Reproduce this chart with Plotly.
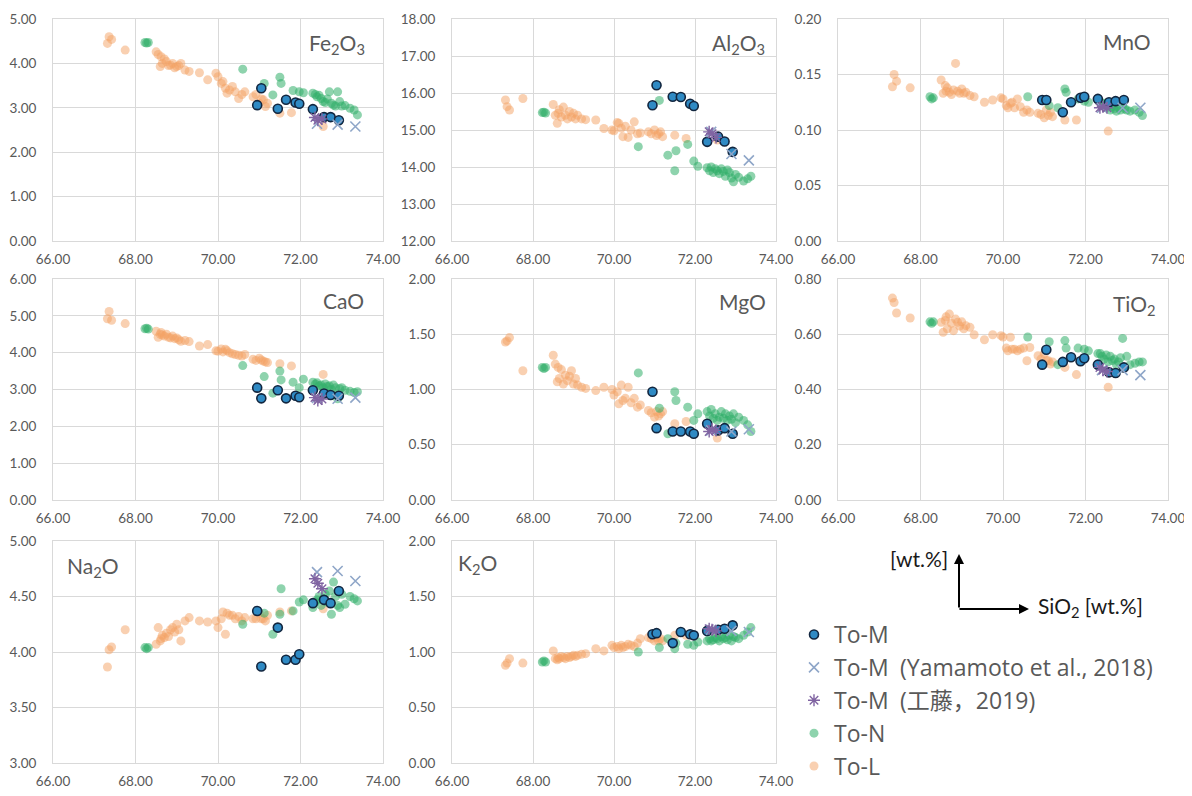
import plotly.graph_objects as go

# ---------------- data ----------------
# To-M (this study)
tom_sio2 = [70.95, 71.05, 71.45, 71.65, 71.88, 71.97, 72.30, 72.57, 72.73, 72.93]
tom_fe2o3 = [3.06, 3.44, 2.98, 3.18, 3.12, 3.09, 2.97, 2.79, 2.79, 2.72]
tom_al2o3 = [15.67, 16.21, 15.90, 15.89, 15.71, 15.65, 14.68, 14.82, 14.69, 14.41]
tom_mno = [0.127, 0.127, 0.116, 0.125, 0.129, 0.130, 0.128, 0.125, 0.126, 0.127]
tom_cao = [3.05, 2.76, 2.98, 2.76, 2.83, 2.79, 2.98, 2.89, 2.85, 2.83]
tom_mgo = [0.98, 0.65, 0.62, 0.62, 0.62, 0.60, 0.69, 0.63, 0.65, 0.60]
tom_tio2 = [0.490, 0.544, 0.500, 0.517, 0.502, 0.513, 0.490, 0.462, 0.460, 0.480]
tom_na2o = [4.37, 3.87, 4.22, 3.93, 3.93, 3.98, 4.44, 4.47, 4.44, 4.55]
tom_k2o = [1.16, 1.17, 1.08, 1.18, 1.16, 1.15, 1.19, 1.20, 1.21, 1.24]

# To-M (Yamamoto et al., 2018)
yam_sio2 = [72.40, 72.90, 73.33]
yam_fe2o3 = [2.64, 2.62, 2.58]
yam_al2o3 = [14.95, 14.35, 14.18]
yam_mno = [0.120, 0.120, 0.120]
yam_cao = [2.77, 2.75, 2.78]
yam_mgo = [0.63, 0.62, 0.64]
yam_tio2 = [0.470, 0.470, 0.452]
yam_na2o = [4.72, 4.73, 4.64]
yam_k2o = [1.20, 1.19, 1.18]

# To-M (Kudo, 2019)
kudo_sio2 = [72.35, 72.42, 72.52]
kudo_fe2o3 = [2.78, 2.72, 2.75]
kudo_al2o3 = [14.95, 14.90, 14.80]
kudo_mno = [0.120, 0.121, 0.120]
kudo_cao = [2.78, 2.70, 2.74]
kudo_mgo = [0.62, 0.64, 0.63]
kudo_tio2 = [0.480, 0.470, 0.465]
kudo_na2o = [4.66, 4.62, 4.57]
kudo_k2o = [1.21, 1.20, 1.19]

# To-N
ton_sio2 = [68.23, 68.27, 68.31, 70.60, 71.12, 71.33, 71.50, 71.53, 71.82, 71.97,
            72.07, 72.30, 72.36, 72.40, 72.45, 72.50, 72.55, 72.60, 72.65, 72.70,
            72.75, 72.80, 72.85, 72.90, 72.95, 73.00, 73.08, 73.20, 73.30, 73.38]
ton_fe2o3 = [4.47, 4.46, 4.47, 3.87, 3.55, 3.29, 3.69, 3.55, 3.39, 3.36,
             3.34, 3.33, 3.30, 3.25, 3.28, 3.21, 3.14, 3.12, 3.20, 3.36,
             3.10, 3.06, 3.04, 3.36, 3.14, 3.04, 3.05, 2.99, 2.95, 2.84]
ton_al2o3 = [15.47, 15.48, 15.46, 14.55, 15.80, 14.32, 13.90, 14.44, 14.61, 14.16,
             14.02, 13.98, 13.90, 14.00, 13.85, 13.95, 13.90, 13.82, 13.95, 13.88,
             13.75, 13.92, 13.85, 13.70, 13.60, 13.80, 13.72, 13.62, 13.68, 13.75]
ton_mno = [0.130, 0.128, 0.129, 0.130, 0.122, 0.120, 0.137, 0.134, 0.128, 0.126,
           0.125, 0.127, 0.125, 0.122, 0.124, 0.120, 0.122, 0.118, 0.121, 0.119,
           0.117, 0.120, 0.118, 0.122, 0.119, 0.118, 0.117, 0.118, 0.116, 0.113]
ton_cao = [4.65, 4.66, 4.64, 3.65, 3.35, 2.90, 3.50, 3.26, 3.20, 3.05,
           3.28, 3.20, 3.15, 3.18, 3.10, 3.12, 3.05, 3.15, 3.08, 3.10,
           3.00, 3.12, 3.05, 2.75, 3.02, 3.05, 2.98, 2.95, 2.92, 2.94]
ton_mgo = [1.20, 1.19, 1.20, 1.15, 0.83, 0.60, 0.98, 0.90, 0.84, 0.72,
           0.78, 0.80, 0.76, 0.82, 0.74, 0.78, 0.72, 0.75, 0.80, 0.74,
           0.78, 0.72, 0.76, 0.73, 0.78, 0.70, 0.75, 0.72, 0.68, 0.62]
ton_tio2 = [0.645, 0.640, 0.645, 0.590, 0.573, 0.490, 0.577, 0.550, 0.550, 0.546,
            0.540, 0.530, 0.530, 0.520, 0.510, 0.525, 0.500, 0.520, 0.505, 0.510,
            0.490, 0.500, 0.515, 0.585, 0.480, 0.520, 0.490, 0.495, 0.500, 0.500]
ton_na2o = [4.04, 4.03, 4.04, 4.25, 4.35, 4.16, 4.34, 4.57, 4.37, 4.45,
            4.47, 4.40, 4.45, 4.47, 4.50, 4.42, 4.48, 4.52, 4.45, 4.55,
            4.34, 4.63, 4.50, 4.42, 4.40, 4.52, 4.43, 4.50, 4.48, 4.46]
ton_k2o = [0.91, 0.92, 0.91, 1.00, 1.04, 1.12, 1.03, 1.08, 1.07, 1.06,
           1.09, 1.10, 1.12, 1.10, 1.11, 1.13, 1.12, 1.10, 1.14, 1.12,
           1.13, 1.11, 1.15, 1.10, 1.14, 1.13, 1.12, 1.15, 1.18, 1.22]

# To-L
tol_sio2 = [67.32, 67.36, 67.42, 67.75,
            68.50, 68.55, 68.60, 68.62, 68.65, 68.70, 68.75, 68.80, 68.85, 68.90, 68.95, 69.00, 69.05, 69.10,
            69.20, 69.30, 69.55, 69.75, 69.95,
            70.00, 70.08, 70.12, 70.18, 70.22, 70.28, 70.35, 70.42, 70.50, 70.58, 70.65,
            70.85, 70.92, 71.00, 71.05, 71.10, 71.15, 71.20,
            71.50, 71.78, 72.55]
tol_fe2o3 = [4.45, 4.60, 4.54, 4.30,
             4.26, 4.20, 3.93, 4.15, 4.00, 4.10, 4.04, 3.95, 3.96, 4.00, 3.90, 3.93, 3.95, 4.00,
             3.85, 3.82, 3.79, 3.63, 3.78,
             3.70, 3.55, 3.59, 3.44, 3.33, 3.40, 3.48, 3.36, 3.21, 3.30, 3.36,
             3.25, 3.30, 3.10, 3.20, 3.18, 3.03, 3.10,
             2.88, 2.89, 2.58]
tol_al2o3 = [15.81, 15.63, 15.54, 15.85,
             15.69, 15.40, 15.18, 15.45, 15.55, 15.35, 15.62, 15.40, 15.30, 15.50, 15.35, 15.45, 15.30, 15.40,
             15.30, 15.28, 15.27, 15.04, 15.00,
             14.98, 15.20, 15.18, 15.05, 14.82, 15.10, 14.80, 15.00, 15.22, 14.90, 14.92,
             14.95, 14.90, 15.00, 14.85, 14.90, 14.95, 14.82,
             14.86, 14.77, 14.73]
tol_mno = [0.139, 0.150, 0.144, 0.138,
           0.145, 0.133, 0.140, 0.135, 0.138, 0.134, 0.132, 0.136, 0.160, 0.135, 0.133, 0.137, 0.133, 0.134,
           0.131, 0.130, 0.125, 0.127, 0.129,
           0.128, 0.122, 0.120, 0.124, 0.125, 0.120, 0.128, 0.121, 0.116, 0.118, 0.116,
           0.115, 0.114, 0.111, 0.118, 0.113, 0.116, 0.112,
           0.109, 0.109, 0.099]
tol_cao = [4.92, 5.12, 4.88, 4.79,
           4.58, 4.42, 4.50, 4.55, 4.48, 4.45, 4.50, 4.42, 4.40, 4.45, 4.38, 4.40, 4.35, 4.31,
           4.33, 4.30, 4.18, 4.22, 4.05,
           4.04, 4.10, 4.02, 4.09, 4.05, 4.00, 3.97, 3.95, 3.93, 3.91, 3.95,
           3.82, 3.79, 3.85, 3.80, 3.77, 3.75, 3.73,
           3.70, 3.64, 3.41]
tol_mgo = [1.43, 1.44, 1.47, 1.17,
           1.31, 1.23, 1.07, 1.20, 1.10, 1.18, 1.05, 1.13, 1.08, 1.12, 1.17, 1.05, 1.10, 1.04,
           1.02, 1.01, 0.99, 1.02, 1.00,
           0.95, 0.98, 0.87, 1.04, 0.90, 0.92, 1.02, 0.88, 0.92, 0.84, 0.86,
           0.81, 0.79, 0.75, 0.80, 0.76, 0.78, 0.80,
           0.69, 0.71, 0.56]
tol_tio2 = [0.731, 0.715, 0.677, 0.659,
            0.643, 0.607, 0.650, 0.663, 0.620, 0.673, 0.640, 0.613, 0.655, 0.643, 0.630, 0.645, 0.620, 0.631,
            0.625, 0.598, 0.580, 0.598, 0.595,
            0.590, 0.550, 0.540, 0.589, 0.546, 0.546, 0.540, 0.546, 0.550, 0.504, 0.552,
            0.522, 0.510, 0.530, 0.505, 0.504, 0.492, 0.500,
            0.480, 0.454, 0.408]
tol_na2o = [3.865, 4.02, 4.045, 4.20,
            4.07, 4.22, 4.10, 4.12, 4.15, 4.13, 4.17, 4.14, 4.20, 4.22, 4.18, 4.25, 4.20, 4.10,
            4.28, 4.31, 4.28, 4.27, 4.28,
            4.22, 4.30, 4.36, 4.16, 4.35, 4.33, 4.33, 4.30, 4.32, 4.28, 4.31,
            4.30, 4.30, 4.35, 4.30, 4.30, 4.28, 4.33,
            4.36, 4.37, 4.39]
tol_k2o = [0.88, 0.90, 0.94, 0.90,
           1.01, 0.94, 0.93, 0.95, 0.94, 0.96, 0.95, 0.94, 0.96, 0.95, 0.96, 0.97, 0.96, 0.97,
           0.98, 0.985, 1.03, 1.01, 1.06,
           1.04, 1.05, 1.03, 1.06, 1.04, 1.05, 1.07, 1.06, 1.05, 1.08, 1.12,
           1.13, 1.12, 1.10, 1.13, 1.10, 1.12, 1.10,
           1.15, 1.15, 1.18]

x_ticks = [66, 68, 70, 72, 74]

panel_names = ["Fe<sub>2</sub>O<sub>3</sub>", "Al<sub>2</sub>O<sub>3</sub>", "MnO", "CaO",
               "MgO", "TiO<sub>2</sub>", "Na<sub>2</sub>O", "K<sub>2</sub>O"]
y_ranges = [(0, 5), (12, 18), (0, 0.2), (0, 6), (0, 2), (0, 0.8), (3, 5), (0, 2)]
y_dticks = [1, 1, 0.05, 1, 0.5, 0.2, 0.5, 0.5]

series = [
    ("To-L", tol_sio2, [tol_fe2o3, tol_al2o3, tol_mno, tol_cao, tol_mgo, tol_tio2, tol_na2o, tol_k2o],
     dict(symbol="circle", size=9, color="rgba(244,162,100,0.50)", line=dict(width=0)), 5),
    ("To-N", ton_sio2, [ton_fe2o3, ton_al2o3, ton_mno, ton_cao, ton_mgo, ton_tio2, ton_na2o, ton_k2o],
     dict(symbol="circle", size=9, color="rgba(50,175,105,0.55)", line=dict(width=0)), 4),
    ("To-M", tom_sio2, [tom_fe2o3, tom_al2o3, tom_mno, tom_cao, tom_mgo, tom_tio2, tom_na2o, tom_k2o],
     dict(symbol="circle", size=9, color="#2f8ac4", line=dict(width=1.6, color="#12263f")), 1),
    ("To-M\u2002(Yamamoto et al., 2018)", yam_sio2,
     [yam_fe2o3, yam_al2o3, yam_mno, yam_cao, yam_mgo, yam_tio2, yam_na2o, yam_k2o],
     dict(symbol="x-thin-open", size=10, color="#8fa6c8", line=dict(width=1.6, color="#8fa6c8")), 2),
    ("To-M\u2002(工藤，2019)", kudo_sio2,
     [kudo_fe2o3, kudo_al2o3, kudo_mno, kudo_cao, kudo_mgo, kudo_tio2, kudo_na2o, kudo_k2o],
     dict(symbol="asterisk-open", size=10, color="#8064a2", line=dict(width=1.4, color="#8064a2")), 3),
]

# page body has an 8px margin: the figure canvas starts at (8, 8) on screen
OFF = 8
W, H = 1192 - OFF, 796 - OFF


def px(x):
    return (x - OFF) / W


def py(y):
    return 1 - (y - OFF) / H


cols = [(53, 383), (452, 776), (838, 1168)]
rows = [(19, 241), (279, 500), (541, 763)]
label_pos = [(337, 44), (738, 44), (1127, 41),
             (343, 301), (742, 302), (1134, 305),
             (93, 567), (477, 564)]

fig = go.Figure()
gray = "#595959"
gridc = "#d9d9d9"
font_main = "Lato, 'Noto Sans', sans-serif"

for p in range(8):
    r, c = divmod(p, 3)
    ax = "" if p == 0 else str(p + 1)
    x0, x1 = cols[c]
    y0, y1 = rows[r]
    fig.update_layout({
        f"xaxis{ax}": dict(domain=[px(x0), px(x1)], range=[66, 74], tickvals=x_ticks,
                           tickformat=".2f", showgrid=True, gridcolor=gridc, gridwidth=1,
                           showline=True, mirror=True, linecolor=gridc, linewidth=1,
                           zeroline=False, anchor=f"y{ax}", ticks="", automargin=False,
                           tickfont=dict(size=13.5, color=gray, family=font_main),
                           ticklabelstandoff=6, fixedrange=True),
        f"yaxis{ax}": dict(domain=[py(y1), py(y0)], range=list(y_ranges[p]),
                           dtick=y_dticks[p], tick0=y_ranges[p][0],
                           tickformat=".2f", showgrid=True, gridcolor=gridc, gridwidth=1,
                           showline=True, mirror=True, linecolor=gridc, linewidth=1,
                           zeroline=False, anchor=f"x{ax}", ticks="", automargin=False,
                           tickfont=dict(size=13.5, color=gray, family=font_main),
                           ticklabelstandoff=13, fixedrange=True),
    })
    for name, sx, vals, mk, rank in series:
        fig.add_trace(go.Scatter(
            x=sx, y=vals[p], mode="markers", name=name, marker=mk,
            xaxis=f"x{ax}", yaxis=f"y{ax}", showlegend=(p == 0),
            legendgroup=name, legendrank=rank, hoverinfo="x+y+name",
        ))
    lx, ly = label_pos[p]
    fig.add_annotation(x=px(lx), y=py(ly), xref="paper", yref="paper",
                       text=panel_names[p], showarrow=False, xanchor="center", yanchor="middle",
                       font=dict(size=21, color=gray, family=font_main))

# axis-direction key
fig.add_annotation(x=px(959), y=py(554), xref="paper", yref="paper", ax=0, ay=55,
                   text="", showarrow=True, arrowhead=2, arrowsize=1, arrowwidth=2,
                   arrowcolor="black", standoff=0, startstandoff=0)
fig.add_annotation(x=px(1029), y=py(609), xref="paper", yref="paper", ax=-71, ay=0,
                   text="", showarrow=True, arrowhead=2, arrowsize=1, arrowwidth=2,
                   arrowcolor="black", standoff=0, startstandoff=0)
fig.add_annotation(x=px(950), y=py(558), xref="paper", yref="paper",
                   text="[wt.%]", showarrow=False, xanchor="right", yanchor="middle",
                   font=dict(size=21, color="#1a1a1a", family=font_main))
fig.add_annotation(x=px(1036), y=py(607), xref="paper", yref="paper",
                   text="SiO<sub>2</sub> [wt.%]", showarrow=False, xanchor="left", yanchor="middle",
                   font=dict(size=21, color="#1a1a1a", family=font_main))

fig.update_layout(
    width=W, height=H, margin=dict(l=0, r=0, t=0, b=0),
    paper_bgcolor="white", plot_bgcolor="white",
    legend=dict(x=px(794), y=py(613), xanchor="left", yanchor="top",
                font=dict(size=23, color=gray, family="'Open Sans', 'Noto Sans CJK JP', sans-serif"),
                tracegroupgap=0, itemwidth=30, bgcolor="rgba(0,0,0,0)"),
    showlegend=True,
)

fig.write_html("out.html")
